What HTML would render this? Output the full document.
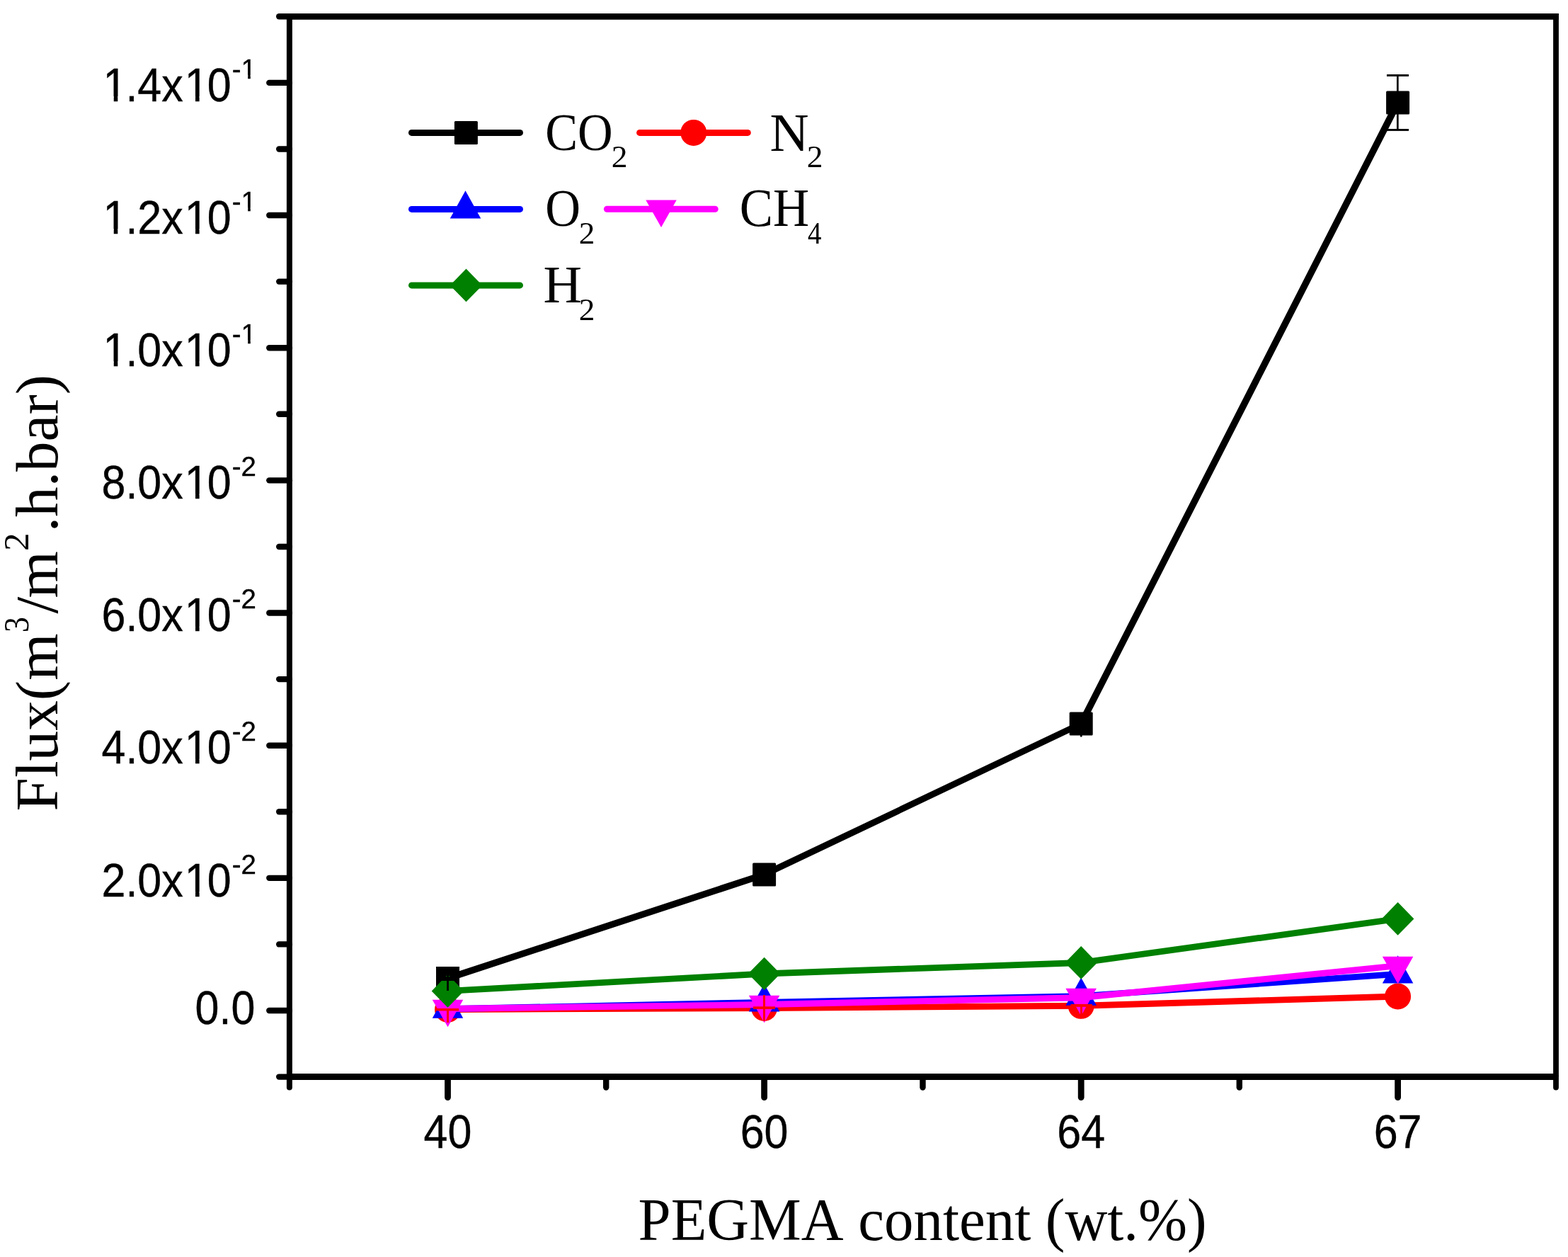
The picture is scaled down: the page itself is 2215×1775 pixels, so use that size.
<!DOCTYPE html>
<html><head><meta charset="utf-8"><title>Flux vs PEGMA content</title>
<style>html,body{margin:0;padding:0;background:#fff;width:2215px;height:1775px;overflow:hidden}svg{display:block}text{font-kerning:none;font-variant-ligatures:none}</style>
</head><body>
<svg width="2215" height="1775" viewBox="0 0 2215 1775"><rect x="0" y="0" width="2215" height="1775" fill="#fff"/>
<line x1="632.5" y1="1381.5" x2="1079.6" y2="1234.9" stroke="#000000" stroke-width="9.32" stroke-linecap="round"/>
<line x1="1079.6" y1="1234.9" x2="1527.2" y2="1022" stroke="#000000" stroke-width="9.04" stroke-linecap="round"/>
<line x1="1527.2" y1="1022" x2="1974.6" y2="145" stroke="#000000" stroke-width="9.50" stroke-linecap="round"/>
<rect x="616" y="1365" width="33" height="33" rx="1.5" fill="#000000"/>
<rect x="1063.1" y="1218.4" width="33" height="33" rx="1.5" fill="#000000"/>
<rect x="1510.7" y="1005.5" width="33" height="33" rx="1.5" fill="#000000"/>
<rect x="1958.1" y="128.5" width="33" height="33" rx="1.5" fill="#000000"/>
<line x1="632.5" y1="1425.5" x2="1079.6" y2="1423.5" stroke="#ff0000" stroke-width="8.90" stroke-linecap="round"/>
<line x1="1079.6" y1="1423.5" x2="1527.2" y2="1420.3" stroke="#ff0000" stroke-width="8.90" stroke-linecap="round"/>
<line x1="1527.2" y1="1420.3" x2="1974.6" y2="1407" stroke="#ff0000" stroke-width="8.90" stroke-linecap="round"/>
<circle cx="632.5" cy="1425.5" r="18.5" fill="#ff0000"/>
<circle cx="1079.6" cy="1423.5" r="18.5" fill="#ff0000"/>
<circle cx="1527.2" cy="1420.3" r="18.5" fill="#ff0000"/>
<circle cx="1974.6" cy="1407" r="18.5" fill="#ff0000"/>
<line x1="632.5" y1="1424.8" x2="1079.6" y2="1415.4" stroke="#0000ff" stroke-width="8.90" stroke-linecap="round"/>
<line x1="1079.6" y1="1415.4" x2="1527.2" y2="1406.6" stroke="#0000ff" stroke-width="8.90" stroke-linecap="round"/>
<line x1="1527.2" y1="1406.6" x2="1974.6" y2="1375.4" stroke="#0000ff" stroke-width="8.90" stroke-linecap="round"/>
<polygon points="632.5,1398.67 610.75,1437.87 654.25,1437.87" fill="#0000ff"/>
<polygon points="1079.6,1389.27 1057.85,1428.47 1101.35,1428.47" fill="#0000ff"/>
<polygon points="1527.2,1380.47 1505.45,1419.67 1548.95,1419.67" fill="#0000ff"/>
<polygon points="1974.6,1349.27 1952.85,1388.47 1996.35,1388.47" fill="#0000ff"/>
<line x1="632.5" y1="1424.5" x2="1079.6" y2="1418.5" stroke="#ff00ff" stroke-width="8.90" stroke-linecap="round"/>
<line x1="1079.6" y1="1418.5" x2="1527.2" y2="1408.7" stroke="#ff00ff" stroke-width="8.90" stroke-linecap="round"/>
<line x1="1527.2" y1="1408.7" x2="1974.6" y2="1363.6" stroke="#ff00ff" stroke-width="8.91" stroke-linecap="round"/>
<polygon points="610.75,1411.63 654.25,1411.63 632.5,1450.23" fill="#ff00ff"/>
<polygon points="1057.85,1405.63 1101.35,1405.63 1079.6,1444.23" fill="#ff00ff"/>
<polygon points="1505.45,1395.83 1548.95,1395.83 1527.2,1434.43" fill="#ff00ff"/>
<polygon points="1952.85,1350.73 1996.35,1350.73 1974.6,1389.33" fill="#ff00ff"/>
<line x1="632.5" y1="1399.4" x2="1079.6" y2="1375" stroke="#008000" stroke-width="8.90" stroke-linecap="round"/>
<line x1="1079.6" y1="1375" x2="1527.2" y2="1359.4" stroke="#008000" stroke-width="8.90" stroke-linecap="round"/>
<line x1="1527.2" y1="1359.4" x2="1974.6" y2="1297.4" stroke="#008000" stroke-width="8.91" stroke-linecap="round"/>
<polygon points="632.5,1376.1 655.3,1399.4 632.5,1422.7 609.7,1399.4" fill="#008000"/>
<polygon points="1079.6,1351.7 1102.4,1375 1079.6,1398.3 1056.8,1375" fill="#008000"/>
<polygon points="1527.2,1336.1 1550,1359.4 1527.2,1382.7 1504.4,1359.4" fill="#008000"/>
<polygon points="1974.6,1274.1 1997.4,1297.4 1974.6,1320.7 1951.8,1297.4" fill="#008000"/>
<rect x="616" y="1365" width="33" height="20" fill="#000"/>
<rect x="631.1" y="1383" width="2.8" height="16" fill="#000"/>
<rect x="630" y="1378" width="1.2" height="1.2" fill="#008000"/><rect x="634" y="1378" width="1.2" height="1.2" fill="#008000"/>
<g fill="#000"><rect x="1973" y="106.4" width="2.7" height="77"/><rect x="1959" y="105" width="31" height="2.9"/><rect x="1959" y="182" width="31" height="2.9"/></g>
<rect x="1526" y="1030" width="2.6" height="10.5" fill="#000"/>
<g fill="#f00"><rect x="617" y="1424" width="31" height="3.4"/><rect x="631" y="1425" width="3" height="19"/><rect x="1064" y="1421.3" width="31" height="3.6"/><rect x="1078" y="1405" width="3" height="36.8"/><rect x="1512.5" y="1417.9" width="30.3" height="3.9"/><rect x="1526" y="1419" width="3" height="16"/></g>
<g stroke="#000" fill="none">
<line x1="408.9" y1="23.35" x2="2201.9" y2="23.35" stroke-width="8.9"/>
<line x1="408.9" y1="1520.4" x2="2198.0" y2="1520.4" stroke-width="9"/>
<line x1="408.9" y1="18.950000000000003" x2="408.9" y2="1520.4" stroke-width="8"/>
<line x1="2198.0" y1="18.950000000000003" x2="2198.0" y2="1520.4" stroke-width="7.8"/>
</g>
<g stroke="#000" stroke-width="8.4" stroke-linecap="round" fill="none">
<line x1="408.9" y1="1427" x2="380.3" y2="1427"/>
<line x1="408.9" y1="1239.84" x2="380.3" y2="1239.84"/>
<line x1="408.9" y1="1052.68" x2="380.3" y2="1052.68"/>
<line x1="408.9" y1="865.52" x2="380.3" y2="865.52"/>
<line x1="408.9" y1="678.36" x2="380.3" y2="678.36"/>
<line x1="408.9" y1="491.2" x2="380.3" y2="491.2"/>
<line x1="408.9" y1="304.04" x2="380.3" y2="304.04"/>
<line x1="408.9" y1="116.88" x2="380.3" y2="116.88"/>
<line x1="408.9" y1="1520.58" x2="394.2" y2="1520.58"/>
<line x1="408.9" y1="1333.42" x2="394.2" y2="1333.42"/>
<line x1="408.9" y1="1146.26" x2="394.2" y2="1146.26"/>
<line x1="408.9" y1="959.1" x2="394.2" y2="959.1"/>
<line x1="408.9" y1="771.94" x2="394.2" y2="771.94"/>
<line x1="408.9" y1="584.78" x2="394.2" y2="584.78"/>
<line x1="408.9" y1="397.62" x2="394.2" y2="397.62"/>
<line x1="408.9" y1="210.46" x2="394.2" y2="210.46"/>
<line x1="408.9" y1="23.3" x2="394.2" y2="23.3"/>
<line x1="632.5" y1="1520.4" x2="632.5" y2="1549.6" stroke-width="8.8"/>
<line x1="1079.6" y1="1520.4" x2="1079.6" y2="1549.6" stroke-width="8.8"/>
<line x1="1527.2" y1="1520.4" x2="1527.2" y2="1549.6" stroke-width="8.8"/>
<line x1="1974.6" y1="1520.4" x2="1974.6" y2="1549.6" stroke-width="8.8"/>
<line x1="408.9" y1="1520.4" x2="408.9" y2="1535.5" stroke-width="8.0"/>
<line x1="856.2" y1="1520.4" x2="856.2" y2="1535.5" stroke-width="8.4"/>
<line x1="1303.5" y1="1520.4" x2="1303.5" y2="1535.5" stroke-width="8.4"/>
<line x1="1750.8" y1="1520.4" x2="1750.8" y2="1535.5" stroke-width="8.4"/>
<line x1="2198" y1="1520.4" x2="2198" y2="1535.5" stroke-width="7.8"/>
</g>
<g font-family="Liberation Sans" fill="#000" stroke="#000" stroke-width="0.35">
<text transform="translate(0 142.68) scale(1 1.083)" font-size="61.0"><tspan x="145.50 177.43 194.37 228.30 260.80 292.72" y="0">1.4x10</tspan><tspan x="327.80" y="-29.64" font-size="35.549" textLength="34.23" lengthAdjust="spacingAndGlyphs">-1</tspan></text>
<text transform="translate(0 329.84) scale(1 1.083)" font-size="61.0"><tspan x="145.50 177.43 194.37 228.30 260.80 292.72" y="0">1.2x10</tspan><tspan x="327.80" y="-29.64" font-size="35.549" textLength="34.23" lengthAdjust="spacingAndGlyphs">-1</tspan></text>
<text transform="translate(0 517.00) scale(1 1.083)" font-size="61.0"><tspan x="145.50 177.43 194.37 228.30 260.80 292.72" y="0">1.0x10</tspan><tspan x="327.80" y="-29.64" font-size="35.549" textLength="34.23" lengthAdjust="spacingAndGlyphs">-1</tspan></text>
<text transform="translate(0 704.16) scale(1 1.083)" font-size="61.0"><tspan x="143.50 177.43 194.37 228.30 260.80 292.72" y="0">8.0x10</tspan><tspan x="327.80" y="-29.64" font-size="35.549" textLength="34.23" lengthAdjust="spacingAndGlyphs">-2</tspan></text>
<text transform="translate(0 891.32) scale(1 1.083)" font-size="61.0"><tspan x="143.50 177.43 194.37 228.30 260.80 292.72" y="0">6.0x10</tspan><tspan x="327.80" y="-29.64" font-size="35.549" textLength="34.23" lengthAdjust="spacingAndGlyphs">-2</tspan></text>
<text transform="translate(0 1078.48) scale(1 1.083)" font-size="61.0"><tspan x="143.50 177.43 194.37 228.30 260.80 292.72" y="0">4.0x10</tspan><tspan x="327.80" y="-29.64" font-size="35.549" textLength="34.23" lengthAdjust="spacingAndGlyphs">-2</tspan></text>
<text transform="translate(0 1265.64) scale(1 1.083)" font-size="61.0"><tspan x="143.50 177.43 194.37 228.30 260.80 292.72" y="0">2.0x10</tspan><tspan x="327.80" y="-29.64" font-size="35.549" textLength="34.23" lengthAdjust="spacingAndGlyphs">-2</tspan></text>
<text transform="translate(0 1446.20) scale(1 1.083)" font-size="61.0"><tspan x="275.60 309.53 326.47" y="0">0.0</tspan></text>
<text transform="translate(0 1620.60) scale(1 1.083)" font-size="61.0"><tspan x="598.57 632.50" y="0">40</tspan></text>
<text transform="translate(0 1620.60) scale(1 1.083)" font-size="61.0"><tspan x="1045.67 1079.60" y="0">60</tspan></text>
<text transform="translate(0 1620.60) scale(1 1.083)" font-size="61.0"><tspan x="1493.27 1527.20" y="0">64</tspan></text>
<text transform="translate(0 1620.60) scale(1 1.083)" font-size="61.0"><tspan x="1940.67 1974.60" y="0">67</tspan></text>
</g>
<g fill="#fff"><rect x="148.55" y="136.04" width="12.19" height="8.24"/><rect x="166.33" y="136.04" width="11.72" height="8.24"/><rect x="263.84" y="136.04" width="12.19" height="8.24"/><rect x="281.63" y="136.04" width="11.72" height="8.24"/><rect x="341.95" y="106.00" width="8.25" height="6.18"/><rect x="353.80" y="106.00" width="7.95" height="6.18"/><rect x="148.55" y="323.20" width="12.19" height="8.24"/><rect x="166.33" y="323.20" width="11.72" height="8.24"/><rect x="263.84" y="323.20" width="12.19" height="8.24"/><rect x="281.63" y="323.20" width="11.72" height="8.24"/><rect x="341.95" y="293.16" width="8.25" height="6.18"/><rect x="353.80" y="293.16" width="7.95" height="6.18"/><rect x="148.55" y="510.36" width="12.19" height="8.24"/><rect x="166.33" y="510.36" width="11.72" height="8.24"/><rect x="263.84" y="510.36" width="12.19" height="8.24"/><rect x="281.63" y="510.36" width="11.72" height="8.24"/><rect x="341.95" y="480.32" width="8.25" height="6.18"/><rect x="353.80" y="480.32" width="7.95" height="6.18"/><rect x="263.84" y="697.52" width="12.19" height="8.24"/><rect x="281.63" y="697.52" width="11.72" height="8.24"/><rect x="263.84" y="884.68" width="12.19" height="8.24"/><rect x="281.63" y="884.68" width="11.72" height="8.24"/><rect x="263.84" y="1071.84" width="12.19" height="8.24"/><rect x="281.63" y="1071.84" width="11.72" height="8.24"/><rect x="263.84" y="1259.00" width="12.19" height="8.24"/><rect x="281.63" y="1259.00" width="11.72" height="8.24"/></g>
<text transform="translate(901.6 1751) scale(1 1.034)" font-family="Liberation Serif" font-size="82.85">PEGMA content (wt.%)</text>
<g transform="translate(81 1143) rotate(-90)" font-family="Liberation Serif" font-size="85.2" fill="#000"><text y="0"><tspan x="-2.45" y="0">Flux(m</tspan><tspan x="250.0" y="-40.6" font-size="51.4" textLength="21.85" lengthAdjust="spacingAndGlyphs">3</tspan><tspan x="276.6" y="0">/</tspan><tspan x="298.4" y="0">m</tspan><tspan x="365.1" y="-40.6" font-size="51.4">2</tspan><tspan x="391.8" y="0">.h.bar)</tspan></text></g>
<line x1="581.5" y1="187.4" x2="734.5" y2="187.4" stroke="#000000" stroke-width="9" stroke-linecap="round"/>
<rect x="641.9" y="170.9" width="33" height="33" rx="1.5" fill="#000000"/>
<line x1="581.5" y1="295.4" x2="734.5" y2="295.4" stroke="#0000ff" stroke-width="9" stroke-linecap="round"/>
<polygon points="657.5,269.27 635.75,308.47 679.25,308.47" fill="#0000ff"/>
<line x1="581.5" y1="402.9" x2="734.5" y2="402.9" stroke="#008000" stroke-width="9" stroke-linecap="round"/>
<polygon points="658.5,379.6 681.3,402.9 658.5,426.2 635.7,402.9" fill="#008000"/>
<line x1="903.6" y1="187.4" x2="1056.3" y2="187.4" stroke="#ff0000" stroke-width="9" stroke-linecap="round"/>
<circle cx="979.8" cy="187.4" r="18.5" fill="#ff0000"/>
<line x1="857.4" y1="295.3" x2="1010.2" y2="295.3" stroke="#ff00ff" stroke-width="9" stroke-linecap="round"/>
<polygon points="912.25,282.43 955.75,282.43 934,321.03" fill="#ff00ff"/>
<text font-family="Liberation Serif" fill="#000"><tspan x="770.15" y="212.25" font-size="74.78" textLength="95.44" lengthAdjust="spacingAndGlyphs">CO</tspan><tspan x="863.75" y="236.00" font-size="44.24" textLength="22.75" lengthAdjust="spacingAndGlyphs">2</tspan></text>
<text font-family="Liberation Serif" fill="#000"><tspan x="1087.61" y="212.60" font-size="75.23" textLength="55.08" lengthAdjust="spacingAndGlyphs">N</tspan><tspan x="1139.75" y="235.80" font-size="43.79" textLength="22.75" lengthAdjust="spacingAndGlyphs">2</tspan></text>
<text font-family="Liberation Serif" fill="#000"><tspan x="770.14" y="319.25" font-size="74.93" textLength="49.76" lengthAdjust="spacingAndGlyphs">O</tspan><tspan x="817.86" y="344.00" font-size="44.24" textLength="22.63" lengthAdjust="spacingAndGlyphs">2</tspan></text>
<text font-family="Liberation Serif" fill="#000"><tspan x="1044.87" y="319.25" font-size="75.22" textLength="98.29" lengthAdjust="spacingAndGlyphs">CH</tspan><tspan x="1141.12" y="344.02" font-size="44.46" textLength="19.46" lengthAdjust="spacingAndGlyphs">4</tspan></text>
<text font-family="Liberation Serif" fill="#000"><tspan x="767.63" y="427.00" font-size="73.44" textLength="54.62" lengthAdjust="spacingAndGlyphs">H</tspan><tspan x="817.86" y="452.20" font-size="44.39" textLength="22.63" lengthAdjust="spacingAndGlyphs">2</tspan></text></svg>
</body></html>
